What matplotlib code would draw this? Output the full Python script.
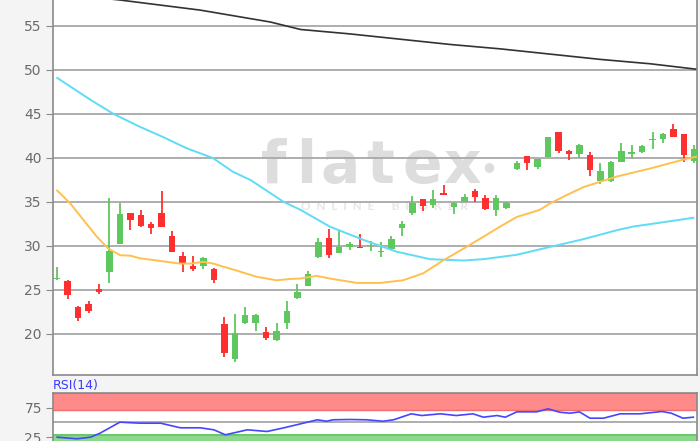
import numpy as np
import matplotlib
matplotlib.use("Agg")
import matplotlib.pyplot as plt

# daily candles: open, high, low, close
opens = [26.2, 26.0, 23.1, 23.4, 25.1, 27.1, 30.2, 33.8, 33.5, 32.5, 33.8, 31.1,
         28.9, 27.7, 27.7, 27.4, 21.1, 17.2, 21.3, 21.3, 20.2, 19.3, 21.2, 24.1,
         25.5, 28.8, 30.9, 29.2, 29.9, 29.9, 30.0, 29.3, 29.7, 32.0, 33.7, 35.3,
         34.6, 36.0, 34.4, 35.05, 36.2, 35.4, 34.1, 34.3, 38.7, 40.2, 39.0, 40.15,
         42.9, 40.8, 40.5, 40.3, 37.35, 37.4, 39.5, 40.5, 40.65, 42.0, 42.2, 43.25,
         42.7, 39.6]
highs = [27.6, 26.1, 23.2, 23.8, 25.7, 35.4, 34.9, 33.8, 34.1, 32.7, 36.3, 31.7,
         29.3, 28.9, 28.8, 27.5, 21.9, 22.3, 23.1, 22.3, 20.8, 21.2, 23.8, 25.7,
         27.2, 30.9, 31.9, 31.8, 30.5, 31.4, 30.6, 30.4, 31.1, 32.8, 35.7, 35.3,
         36.4, 36.9, 35.0, 35.9, 36.5, 35.8, 35.8, 35.0, 39.6, 40.2, 39.9, 42.4,
         42.9, 40.9, 41.6, 40.7, 39.4, 39.6, 41.7, 41.5, 41.5, 42.9, 42.8, 43.9,
         42.75, 41.5]
lows = [26.1, 24.0, 21.5, 22.4, 24.5, 25.8, 30.2, 31.8, 32.2, 31.4, 32.1, 29.3,
        27.0, 27.2, 27.4, 25.8, 17.4, 16.8, 21.1, 20.3, 19.3, 19.2, 20.6, 24.0,
        25.4, 28.6, 28.6, 29.2, 29.5, 29.75, 29.4, 28.8, 29.6, 31.1, 33.5, 34.0,
        34.3, 35.8, 33.6, 35.0, 35.0, 34.1, 33.4, 34.2, 38.6, 38.6, 38.8, 40.1,
        40.6, 39.8, 40.0, 37.9, 37.05, 37.3, 39.5, 40.0, 40.6, 41.0, 41.7, 42.4,
        39.5, 39.4]
closes = [26.4, 24.4, 21.8, 22.6, 24.8, 29.4, 33.6, 32.9, 32.3, 32.0, 32.2, 29.3,
          28.1, 27.4, 28.6, 26.1, 17.8, 20.1, 22.2, 22.2, 19.6, 20.3, 22.6, 24.8,
          26.8, 30.5, 29.0, 29.9, 30.2, 29.8, 30.05, 29.4, 30.8, 32.5, 34.9, 34.5,
          35.3, 35.8, 34.9, 35.6, 35.6, 34.2, 35.4, 34.9, 39.4, 39.4, 39.85, 42.35,
          40.8, 40.4, 41.5, 38.6, 38.5, 39.5, 40.8, 40.7, 41.4, 42.1, 42.7, 42.4,
          40.3, 41.0]

# moving averages (day position, value)
sma_long_x = [0, 6.0, 13.7, 20.4, 23.3, 28.0, 32.8, 37.6, 42.4, 47.2, 52.0, 56.8, 61.1]
sma_long_y = [58.7, 57.95, 56.8, 55.45, 54.6, 54.1, 53.5, 52.9, 52.4, 51.8, 51.2, 50.7, 50.1]

sma_mid_x = [0, 3.2, 5.4, 7.9, 10.1, 12.4, 14.9, 16.8, 18.5, 21.7, 23.3, 26.1, 29.3,
             32.5, 35.7, 38.9, 40.8, 44.0, 47.2, 50.3, 53.6, 55.1, 58.3, 60.9]
sma_mid_y = [49.1, 46.6, 45.0, 43.55, 42.4, 41.1, 40.0, 38.45, 37.5, 35.0, 34.1, 32.2,
             30.7, 29.35, 28.5, 28.35, 28.5, 29.0, 29.9, 30.75, 31.8, 32.2, 32.75, 33.2]

sma_short_x = [0, 1.24, 2.52, 3.8, 4.9, 6.03, 7.0, 7.94, 9.86, 11.77, 12.73, 14.0, 14.96,
               15.9, 17.2, 19.1, 21.0, 22.3, 23.25, 24.85, 26.1, 28.7, 30.9, 33.1, 35.05,
               37.0, 38.9, 40.8, 42.4, 44.0, 46.2, 47.2, 48.8, 50.4, 53.6, 56.75, 59.9, 61.2]
sma_short_y = [36.3, 34.85, 32.95, 31.05, 29.7, 28.95, 28.9, 28.6, 28.3, 28.0, 28.0, 28.2,
               28.0, 27.65, 27.2, 26.5, 26.1, 26.25, 26.3, 26.6, 26.3, 25.8, 25.8, 26.1,
               26.9, 28.4, 29.7, 31.05, 32.2, 33.3, 34.1, 34.85, 35.8, 36.7, 37.9, 38.8,
               39.8, 40.15]

rsi_x = [0, 1.9, 3.2, 4.1, 6.0, 7.9, 9.9, 11.8, 13.7, 15.0, 16.1, 18.2, 20.1, 21.7, 23.3,
         24.9, 25.8, 26.4, 28.0, 29.6, 31.2, 32.2, 33.9, 34.9, 36.7, 38.2, 39.8, 40.8,
         42.1, 42.9, 44.0, 45.9, 47.0, 48.1, 49.1, 50.0, 51.0, 52.3, 53.9, 55.8, 57.9,
         58.8, 59.9, 60.9]
rsi_y = [25.0, 22.3, 25.0, 31.7, 50.3, 48.6, 48.6, 40.8, 40.8, 37.4, 29.0, 37.4, 34.6,
         40.8, 47.5, 54.3, 51.9, 54.3, 54.8, 54.3, 51.9, 54.3, 64.4, 61.5, 64.4, 61.5,
         64.4, 58.7, 61.5, 58.7, 67.7, 67.7, 72.8, 67.1, 65.4, 67.7, 57.0, 57.0, 64.4,
         64.4, 68.3, 65.4, 57.0, 58.7]

yticks_main = [20, 25, 30, 35, 40, 45, 50, 55]
yticks_rsi = [25, 75]

UP = "#5ec85e"
DOWN = "#ff2f2f"
GRID = "#a8a8a8"
SPINE = "#8a8a8a"
TXT = "#6a6a6a"
WM = "#dddddd"

fig = plt.figure(figsize=(7, 4.41), dpi=100, facecolor="#f4f4f4")

ax = fig.add_axes([53 / 700, 66 / 441, 644 / 700, 375 / 441])
ax.set_facecolor("white")
days = np.arange(len(opens))
ax.set_xlim(-0.4, 61.25)
ax.set_ylim(15.34, 57.95)

for y in yticks_main:
    ax.axhline(y, color=GRID, lw=1.3, zorder=1)

# watermark, letters spread out like the logo
for ch, xf in zip("flatex", [0.343, 0.393, 0.446, 0.508, 0.573, 0.635]):
    ax.text(xf, 0.512, ch, transform=ax.transAxes, ha="center", va="baseline",
            fontsize=42, color=WM, family="DejaVu Sans", fontweight="bold", zorder=0.5)
ax.text(0.677, 0.555, "\u25cf", transform=ax.transAxes, ha="center", va="center",
        fontsize=9, color=WM, zorder=0.5)
ax.text(0.515, 0.45, "O  N  L  I  N  E      B  R  O  K  E  R", transform=ax.transAxes,
        ha="center", va="center", fontsize=8.5, color="#e6e6e6", family="Lato",
        fontweight="bold", zorder=0.5)

for d, o, h, l, c in zip(days, opens, highs, lows, closes):
    col = UP if c >= o else DOWN
    ax.vlines(d, l, h, color=col, lw=1.3, zorder=3)
    lo, hi = min(o, c), max(o, c)
    ax.bar(d, max(hi - lo, 0.12), bottom=lo, width=0.62, color=col, zorder=4)

ax.plot(sma_long_x, sma_long_y, color="#333333", lw=1.2, zorder=5)
ax.plot(sma_mid_x, sma_mid_y, color="#5fdcf5", lw=1.4, zorder=5)
ax.plot(sma_short_x, sma_short_y, color="#ffc04d", lw=1.4, zorder=5)

ax.set_yticks(yticks_main)
ax.set_xticks([])
ax.tick_params(axis="y", length=5, color=SPINE, labelcolor=TXT, labelsize=10, pad=3)
ax.spines["top"].set_visible(False)
for s in ["left", "bottom", "right"]:
    ax.spines[s].set_color(SPINE)
    ax.spines[s].set_linewidth(1.2)

# RSI panel
rx = fig.add_axes([53 / 700, -11 / 441, 644 / 700, 59.3 / 441])
rx.set_facecolor("white")
rx.set_xlim(-0.4, 61.25)
rx.set_ylim(0, 100)
rx.axhspan(70, 100, color="#ff8a8a", lw=0, zorder=1)
rx.axhline(70.5, color="#f07070", lw=1.0, zorder=1)
rx.axhline(99, color="#e06868", lw=1.5, zorder=1)
rx.axhspan(0, 30, color="#8cd98c", lw=0, zorder=1)
rx.axhline(29.5, color="#6cc86c", lw=1.5, zorder=1)
rx.axhline(50, color=GRID, lw=1.3, zorder=1)
rx.plot(rsi_x, rsi_y, color="#4646ff", lw=1.2, zorder=3)
rx.set_yticks(yticks_rsi)
rx.set_xticks([])
rx.tick_params(axis="y", length=5, color=SPINE, labelcolor=TXT, labelsize=10, pad=3)
for s in rx.spines.values():
    s.set_color(SPINE)
    s.set_linewidth(1.2)
rx.text(0.0, 1.02, "RSI(14)", transform=rx.transAxes, ha="left", va="bottom",
        fontsize=9, color="#3a3aff")

fig.savefig("out.png", dpi=100, facecolor=fig.get_facecolor())
